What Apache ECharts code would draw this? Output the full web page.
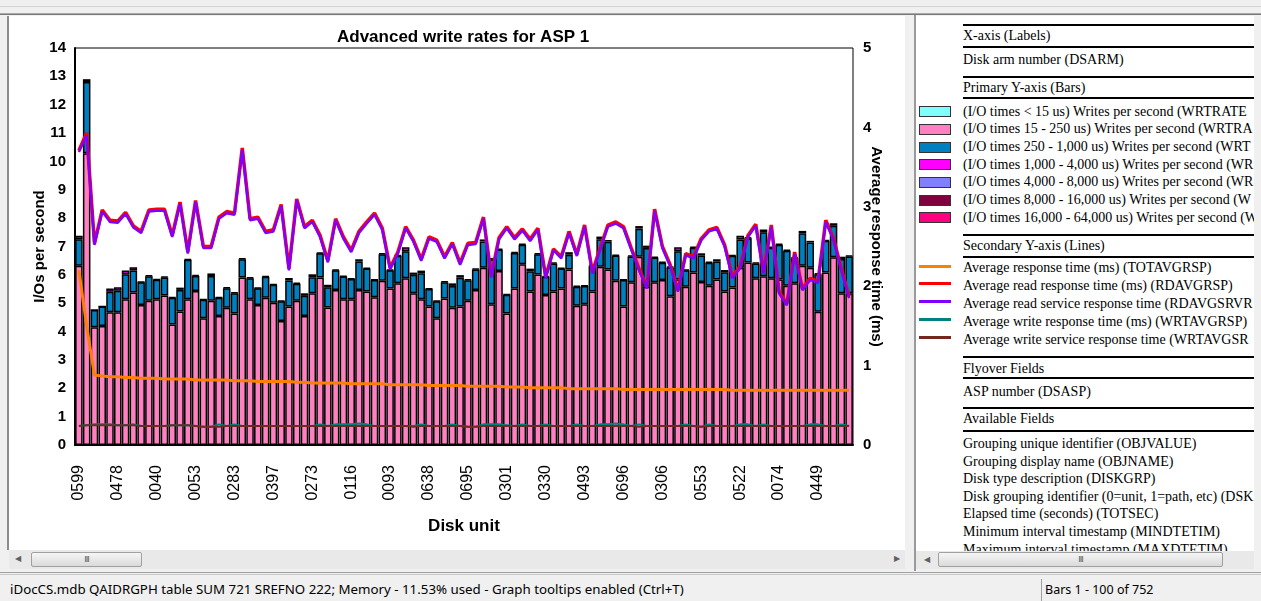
<!DOCTYPE html>
<html><head><meta charset="utf-8">
<script src="https://cdn.jsdelivr.net/npm/echarts@6/dist/echarts.min.js"></script>
<style>
html,body{margin:0;padding:0;width:1261px;height:601px;overflow:hidden;background:#f0f0f0;}
.a{position:absolute;}
#pane{left:7px;top:16px;width:898px;height:534px;background:#fff;border-left:2px solid #8d8d8d;box-sizing:border-box;}
#chart{left:0;top:0;width:905px;height:549px;}
#rp{left:916px;top:16px;width:338px;height:535px;background:#fff;overflow:hidden;font-family:'Liberation Serif','Times New Roman',serif;font-size:14px;color:#000;}
#rp .t{position:absolute;left:47px;height:18px;line-height:18px;white-space:nowrap;}
#rp .r{position:absolute;left:47px;width:300px;height:2px;background:#000;}
#rp .sw{position:absolute;left:3px;width:30px;height:9px;border:1px solid #333;}
#rp .ln{position:absolute;left:3px;width:32px;height:3px;}
.sb{background:#e9e9e9;}
.thumb{position:absolute;border:1px solid #a0a0a0;border-radius:2px;background:linear-gradient(#f6f6f6,#dadada);box-sizing:border-box;text-align:center;font:9px 'Liberation Sans',sans-serif;color:#555;line-height:13px;letter-spacing:-1px;}
.arr{position:absolute;font:8px 'DejaVu Sans',sans-serif;color:#606060;}
.st{font-family:'Noto Sans',sans-serif;font-size:12.5px;color:#000;white-space:nowrap;}
</style></head><body>
<div class="a" style="left:0;top:6px;width:1261px;height:1px;background:#d4d4d4"></div>
<div class="a" style="left:0;top:13px;width:1261px;height:1px;background:#a8a8a8"></div>
<div class="a" style="left:0;top:14px;width:1261px;height:1px;background:#7a7a7a"></div>
<div id="pane" class="a"></div>
<div id="chart" class="a"></div>
<div class="a sb" style="left:9px;top:550px;width:896px;height:19px"></div>
<div class="arr" style="left:15px;top:554px">&#9664;</div>
<div class="thumb" style="left:31px;top:552px;width:111px;height:15px">III</div>
<div class="arr" style="left:894px;top:554px">&#9654;</div>
<div class="a" style="left:906px;top:15px;width:8px;height:556px;background:#f0f0f0"></div>
<div class="a" style="left:914px;top:15px;width:2px;height:556px;background:#9a9a9a"></div>
<div id="rp" class="a"></div>
<div class="a sb" style="left:916px;top:551px;width:338px;height:18px"></div>
<div class="arr" style="left:924px;top:555px">&#9664;</div>
<div class="thumb" style="left:938px;top:552px;width:285px;height:15px">III</div>
<div class="a" style="left:0;top:572px;width:1261px;height:1px;background:#a0a0a0"></div>
<div class="a" style="left:0;top:574px;width:1261px;height:1px;background:#c8c8c8"></div>
<div class="a st" style="left:10px;top:580px;font-size:13.3px">iDocCS.mdb QAIDRGPH table SUM 721 SREFNO 222; Memory - 11.53% used - Graph tooltips enabled (Ctrl+T)</div>
<div class="a" style="left:1041px;top:579px;width:1px;height:22px;background:#a0a0a0"></div>
<div class="a st" style="left:1045px;top:581px">Bars 1 - 100 of 752</div>
<script>
// ---- data ----
const tickLabels = ['0599','0478','0040','0053','0283','0397','0273','0116','0093','0638',
  '0695','0301','0330','0493','0696','0306','0553','0522','0074','0449'];
const wr15to250 = [6.32,10.29,4.15,4.20,4.68,4.68,5.14,5.38,4.94,5.09,
  5.14,5.27,4.25,4.71,5.14,5.43,4.47,5.09,4.55,4.84,
  4.64,5.91,5.14,4.94,5.19,5.02,4.37,4.88,5.09,4.55,
  5.35,5.91,4.85,5.47,5.14,5.14,5.47,5.41,5.21,5.79,
  5.52,5.70,5.88,5.35,5.14,4.88,4.47,5.17,4.84,4.88,
  5.09,5.47,6.25,4.96,6.14,4.64,5.52,6.37,5.41,6.01,
  5.29,5.41,5.52,6.19,4.91,4.96,5.41,6.29,6.19,5.79,
  4.88,5.74,6.64,5.58,5.74,5.82,5.25,5.84,5.58,6.08,
  5.75,5.62,5.84,5.41,5.55,6.25,6.44,5.88,5.95,5.88,
  5.84,5.62,5.70,6.32,6.25,4.70,6.08,6.62,5.35,5.35];
const wr250to1000 = [0.94,2.51,0.61,0.68,0.72,0.76,0.88,0.77,0.80,0.86,
  0.69,0.64,0.94,0.76,1.39,0.53,0.65,0.87,0.64,0.69,
  0.71,0.64,0.74,0.59,0.74,0.63,0.70,0.92,0.60,0.71,
  0.57,0.85,0.71,0.69,0.80,0.71,1.00,0.81,0.61,0.94,
  0.64,0.97,0.95,0.65,0.92,0.62,0.60,0.57,0.77,1.02,
  0.72,0.72,0.93,1.59,0.75,0.66,1.25,0.69,0.72,0.72,
  0.64,0.99,0.70,0.52,0.67,0.65,0.91,0.97,0.98,0.89,
  0.94,0.91,0.99,1.37,0.87,0.61,1.01,0.99,0.58,0.88,
  0.93,0.81,0.63,0.68,1.12,1.00,0.85,0.52,1.55,1.08,
  1.22,1.23,0.89,1.15,0.89,1.32,1.12,1.11,1.21,1.30];
const wr1000to4000 = [0.12,0.10,0.00,0.00,0.12,0.12,0.13,0.12,0.02,0.03,
  0.02,0.03,0.02,0.08,0.03,0.03,0.02,0.09,0.02,0.03,
  0.03,0.03,0.03,0.02,0.03,0.02,0.02,0.09,0.03,0.09,
  0.10,0.03,0.09,0.03,0.03,0.02,0.08,0.03,0.02,0.03,
  0.03,0.03,0.14,0.08,0.09,0.02,0.02,0.03,0.09,0.09,
  0.03,0.03,0.07,0.03,0.03,0.02,0.03,0.03,0.09,0.03,
  0.03,0.03,0.03,0.09,0.03,0.02,0.03,0.09,0.06,0.03,
  0.02,0.03,0.09,0.08,0.03,0.03,0.03,0.14,0.03,0.03,
  0.08,0.03,0.08,0.08,0.03,0.13,0.03,0.03,0.10,0.03,
  0.03,0.03,0.03,0.08,0.06,0.03,0.03,0.09,0.08,0.03];
const totAvgRsp = [2.20,1.50,0.88,0.87,0.86,0.86,0.85,0.85,0.84,0.84,
  0.84,0.83,0.83,0.83,0.83,0.82,0.82,0.82,0.82,0.82,
  0.81,0.81,0.81,0.80,0.80,0.80,0.80,0.80,0.79,0.79,
  0.78,0.78,0.78,0.78,0.78,0.77,0.77,0.77,0.77,0.77,
  0.76,0.76,0.76,0.76,0.76,0.75,0.75,0.75,0.75,0.75,
  0.74,0.74,0.74,0.74,0.74,0.73,0.73,0.73,0.72,0.72,
  0.72,0.72,0.72,0.71,0.71,0.71,0.71,0.71,0.71,0.71,
  0.70,0.70,0.70,0.70,0.70,0.70,0.70,0.70,0.70,0.70,
  0.70,0.70,0.70,0.70,0.69,0.69,0.69,0.69,0.69,0.69,
  0.69,0.69,0.69,0.69,0.69,0.69,0.69,0.69,0.69,0.69];
const rdAvgRsp = [3.71,3.93,2.54,2.96,2.83,2.82,2.93,2.76,2.69,2.96,
  2.97,2.97,2.64,3.06,2.43,3.08,2.50,2.50,2.87,2.94,
  2.92,3.74,2.85,2.87,2.69,2.71,3.03,2.22,3.10,2.75,
  2.83,2.64,2.32,2.85,2.62,2.45,2.69,2.81,2.92,2.73,
  2.23,2.43,2.75,2.58,2.34,2.62,2.58,2.37,2.55,2.29,
  2.54,2.55,2.87,2.13,2.61,2.75,2.61,2.72,2.59,2.73,
  2.12,2.47,2.37,2.69,2.40,2.77,2.18,2.48,2.77,2.81,
  2.75,2.48,2.22,1.99,2.97,2.50,2.27,1.95,2.41,2.37,
  2.60,2.71,2.74,2.52,2.12,2.25,2.64,2.78,2.18,2.77,
  1.93,1.78,2.43,1.97,2.10,2.06,2.83,2.60,2.22,1.87];
const rdAvgSrvRsp = [3.69,3.90,2.52,2.94,2.81,2.80,2.91,2.74,2.67,2.94,
  2.95,2.95,2.62,3.04,2.41,3.06,2.48,2.48,2.85,2.92,
  2.90,3.72,2.83,2.85,2.67,2.69,3.01,2.20,3.08,2.73,
  2.81,2.62,2.30,2.83,2.60,2.43,2.67,2.79,2.90,2.71,
  2.21,2.41,2.73,2.56,2.32,2.60,2.56,2.35,2.53,2.27,
  2.52,2.53,2.85,2.11,2.59,2.73,2.59,2.70,2.57,2.71,
  2.10,2.45,2.35,2.67,2.38,2.75,2.16,2.46,2.75,2.79,
  2.73,2.46,2.20,1.97,2.95,2.48,2.25,1.93,2.39,2.35,
  2.58,2.69,2.72,2.50,2.10,2.23,2.62,2.76,2.16,2.75,
  1.91,1.76,2.41,1.95,2.08,2.04,2.81,2.58,2.20,1.85];
const wrtAvgRsp = [0.24,0.25,0.26,0.26,0.26,0.25,0.25,0.26,0.24,0.24,
  0.24,0.24,0.25,0.25,0.25,0.24,0.23,0.23,0.26,0.24,
  0.26,0.24,0.24,0.24,0.24,0.24,0.24,0.24,0.24,0.24,
  0.24,0.26,0.24,0.26,0.26,0.26,0.27,0.26,0.24,0.24,
  0.24,0.24,0.24,0.24,0.26,0.24,0.24,0.24,0.26,0.24,
  0.23,0.23,0.26,0.26,0.26,0.25,0.24,0.26,0.24,0.24,
  0.26,0.24,0.24,0.24,0.26,0.24,0.24,0.26,0.26,0.27,
  0.26,0.24,0.26,0.24,0.24,0.24,0.24,0.24,0.26,0.24,
  0.23,0.26,0.24,0.24,0.24,0.26,0.26,0.24,0.26,0.24,
  0.24,0.24,0.24,0.24,0.26,0.26,0.24,0.24,0.26,0.24];
const wrtAvgSrvRsp = [0.24,0.25,0.25,0.25,0.25,0.25,0.25,0.25,0.24,0.24,
  0.24,0.24,0.25,0.25,0.25,0.24,0.23,0.23,0.23,0.24,
  0.24,0.24,0.24,0.24,0.24,0.24,0.24,0.24,0.24,0.24,
  0.24,0.24,0.24,0.24,0.24,0.24,0.24,0.24,0.24,0.24,
  0.24,0.24,0.24,0.23,0.24,0.24,0.24,0.24,0.24,0.24,
  0.23,0.23,0.24,0.24,0.24,0.24,0.24,0.24,0.24,0.24,
  0.24,0.24,0.24,0.24,0.24,0.24,0.24,0.24,0.24,0.24,
  0.24,0.24,0.23,0.24,0.24,0.24,0.24,0.24,0.24,0.24,
  0.23,0.24,0.24,0.24,0.24,0.24,0.24,0.24,0.24,0.24,
  0.24,0.24,0.24,0.24,0.24,0.24,0.24,0.24,0.24,0.24];
const barLegend = [
  ['#80FFFF','(I/O times < 15 us) Writes per second (WRTRATE'],
  ['#FF80C0','(I/O times 15 - 250 us) Writes per second (WRTRA'],
  ['#0080C0','(I/O times 250 - 1,000 us) Writes per second (WRT'],
  ['#FF00FF','(I/O times 1,000 - 4,000 us) Writes per second (WR'],
  ['#8080FF','(I/O times 4,000 - 8,000 us) Writes per second (WR'],
  ['#800040','(I/O times 8,000 - 16,000 us) Writes per second (W'],
  ['#FF0080','(I/O times 16,000 - 64,000 us) Writes per second (W']];
const lineLegend = [
  ['#FF8000','Average response time (ms) (TOTAVGRSP)'],
  ['#FF0000','Average read response time (ms) (RDAVGRSP)'],
  ['#8000FF','Average read service response time (RDAVGSRVR'],
  ['#008080','Average write response time (ms) (WRTAVGRSP)'],
  ['#702820','Average write service response time (WRTAVGSR']];
const availFields = ['Grouping unique identifier (OBJVALUE)','Grouping display name (OBJNAME)',
  'Disk type description (DISKGRP)','Disk grouping identifier (0=unit, 1=path, etc) (DSK',
  'Elapsed time (seconds) (TOTSEC)','Minimum interval timestamp (MINDTETIM)','Maximum interval timestamp (MAXDTETIM)'];

// ---- side panel ----
const rp = document.getElementById('rp');
function txt(s, cy){const d=document.createElement('div');d.className='t';d.style.top=(cy-9)+'px';d.textContent=s;rp.appendChild(d);}
function rule(y){const d=document.createElement('div');d.className='r';d.style.top=y+'px';rp.appendChild(d);}
[8,30,60,81,218,240,340,361,391,414].forEach(rule);
txt('X-axis (Labels)',20);
txt('Disk arm number (DSARM)',44);
txt('Primary Y-axis (Bars)',72);
barLegend.forEach((b,i)=>{const cy=95.7+i*17.67;txt(b[1],cy);const s=document.createElement('div');s.className='sw';s.style.top=(cy-5.5)+'px';s.style.background=b[0];rp.appendChild(s);});
txt('Secondary Y-axis (Lines)',230);
lineLegend.forEach((b,i)=>{const cy=252+i*17.9;txt(b[1],cy);const s=document.createElement('div');s.className='ln';s.style.top=(cy-3.5)+'px';s.style.background=b[0];rp.appendChild(s);});
txt('Flyover Fields',353);
txt('ASP number (DSASP)',375.7);
txt('Available Fields',403.3);
availFields.forEach((s,i)=>txt(s,428+i*17.6));

// ---- chart ----
const categories = wr15to250.map((_, i) => i % 5 === 0 ? tickLabels[i / 5] : '');
const F = "'Liberation Sans', Arial, sans-serif";
const chart = echarts.init(document.getElementById('chart'), null, {renderer: 'canvas'});
const bs = c => ({color: c, borderColor: '#000', borderWidth: 1.5});
chart.setOption({
  animation: false,
  textStyle: {fontFamily: F},
  title: {text: 'Advanced write rates for ASP 1', left: 337, top: 29, padding: 0,
    textStyle: {fontSize: 17, fontWeight: 'bold', color: '#000', fontFamily: F}},
  tooltip: {trigger: 'axis'},
  grid: {left: 75, top: 48, width: 778, height: 397, show: true, borderColor: '#000', borderWidth: 1, backgroundColor: 'transparent'},
  xAxis: {type: 'category', data: categories, boundaryGap: true,
    name: 'Disk unit', nameLocation: 'middle', nameGap: 73, nameMoveOverlap: false,
    nameTextStyle: {fontSize: 17, fontWeight: 'bold', color: '#000', fontFamily: F},
    axisLine: {lineStyle: {color: '#000', width: 2}},
    axisTick: {interval: 4, alignWithLabel: true, length: 10, lineStyle: {color: '#000', width: 1.5}},
    axisLabel: {interval: 4, rotate: 90, margin: 20, fontSize: 16, color: '#000', fontFamily: F},
    splitLine: {show: false}},
  yAxis: [
    {type: 'value', min: 0, max: 14, interval: 1, position: 'left',
     name: 'I/Os per second', nameLocation: 'middle', nameGap: 28, nameMoveOverlap: false,
     nameTextStyle: {fontSize: 15, fontWeight: 'bold', color: '#000', fontFamily: F},
     axisLine: {show: true, lineStyle: {color: '#000', width: 2}}, axisTick: {show: false},
     axisLabel: {fontSize: 15, fontWeight: 'bold', color: '#000', margin: 9, fontFamily: F},
     splitLine: {show: false}},
    {type: 'value', min: 0, max: 5, interval: 1, position: 'right',
     name: 'Average response time (ms)', nameLocation: 'middle', nameGap: 16, nameRotate: -90, nameMoveOverlap: false,
     nameTextStyle: {fontSize: 15, fontWeight: 'bold', color: '#000', fontFamily: F},
     axisLine: {show: false}, axisTick: {show: false},
     axisLabel: {fontSize: 15, fontWeight: 'bold', color: '#000', margin: 10, fontFamily: F},
     splitLine: {show: false}}
  ],
  series: [
    {name: '(I/O times 15 - 250 us) Writes per second', type: 'bar', stack: 'w', data: wr15to250, itemStyle: bs('#FF80C0'), barCategoryGap: '3%'},
    {name: '(I/O times 250 - 1,000 us) Writes per second', type: 'bar', stack: 'w', data: wr250to1000, itemStyle: bs('#0080C0')},
    {name: '(I/O times 1,000 - 4,000 us) Writes per second', type: 'bar', stack: 'w', data: wr1000to4000, itemStyle: bs('#FF00FF')},
    {name: 'Average response time (ms)', type: 'line', yAxisIndex: 1, data: totAvgRsp, symbol: 'none', lineStyle: {color: '#FF8000', width: 3}, itemStyle: {color: '#FF8000'}},
    {name: 'Average read response time (ms)', type: 'line', yAxisIndex: 1, data: rdAvgRsp, symbol: 'none', lineStyle: {color: '#FF0000', width: 3.5}, itemStyle: {color: '#FF0000'}},
    {name: 'Average read service response time', type: 'line', yAxisIndex: 1, data: rdAvgSrvRsp, symbol: 'none', lineStyle: {color: '#8000FF', width: 2.5}, itemStyle: {color: '#8000FF'}},
    {name: 'Average write response time (ms)', type: 'line', yAxisIndex: 1, data: wrtAvgRsp, symbol: 'none', lineStyle: {color: '#008080', width: 2}, itemStyle: {color: '#008080'}},
    {name: 'Average write service response time', type: 'line', yAxisIndex: 1, data: wrtAvgSrvRsp, symbol: 'none', lineStyle: {color: '#702820', width: 2}, itemStyle: {color: '#702820'}}
  ]
});
</script>
</body></html>
